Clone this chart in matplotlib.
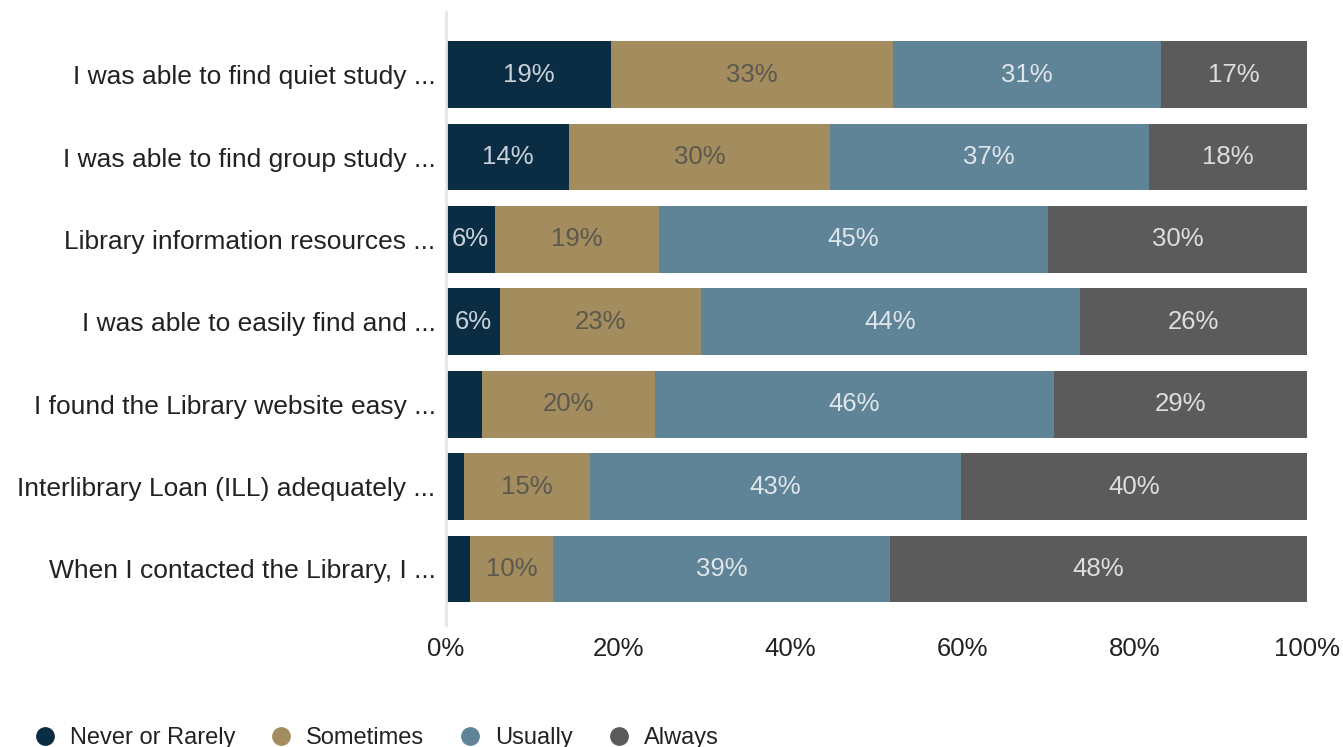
import matplotlib
matplotlib.use("Agg")
import matplotlib.pyplot as plt
import numpy as np
from matplotlib.lines import Line2D

plt.rcParams["font.family"] = ["Liberation Sans", "DejaVu Sans"]

QUESTIONS = [
    "I was able to find quiet study ...",
    "I was able to find group study ...",
    "Library information resources ...",
    "I was able to easily find and ...",
    "I found the Library website easy ...",
    "Interlibrary Loan (ILL) adequately ...",
    "When I contacted the Library, I ...",
]
NEVER     = [19.2, 14.3, 5.7, 6.3, 4.2, 2.1, 2.8]
SOMETIMES = [32.7, 30.3, 19.0, 23.3, 20.1, 14.6, 9.6]
USUALLY   = [31.1, 37.0, 45.2, 44.0, 46.3, 43.1, 39.2]
ALWAYS    = [17.0, 18.4, 30.1, 26.4, 29.4, 40.2, 48.4]

SERIES = ["Never or Rarely", "Sometimes", "Usually", "Always"]
COLORS = ["#0b2d44", "#a38d5f", "#5f8397", "#5b5b5b"]
TEXT_COLORS = ["#c9d2da", "#5c584c", "#dfe6ea", "#dedede"]
XTICKS = [0, 20, 40, 60, 80, 100]

fig = plt.figure(figsize=(13.43, 7.47), dpi=100)
ax = fig.add_axes([446 / 1343, 1 - 625 / 747, 861 / 1343, 613 / 747])

y = np.arange(len(QUESTIONS))
left = np.zeros(len(QUESTIONS))
for vals, color, tcol in zip([NEVER, SOMETIMES, USUALLY, ALWAYS], COLORS, TEXT_COLORS):
    vals = np.array(vals)
    ax.barh(y, vals, left=left, height=0.81, color=color, linewidth=0)
    for yi, l, v in zip(y, left, vals):
        if v >= 5:
            ax.text(l + v / 2, yi, f"{round(v)}%", ha="center", va="center",
                    fontsize=18.5, color=tcol)
    left += vals

ax.set_xlim(0, 100)
ax.set_ylim(6.68, -0.76)
ax.set_yticks(y)
ax.set_yticklabels(QUESTIONS, fontsize=19, color="#222222")
ax.set_xticks(XTICKS)
ax.set_xticklabels([f"{t}%" for t in XTICKS], fontsize=18.5, color="#222222")
ax.tick_params(axis="both", length=0)
ax.tick_params(axis="y", pad=7.5)
ax.tick_params(axis="x", pad=9)
for s in ["top", "right", "bottom"]:
    ax.spines[s].set_visible(False)
ax.spines["left"].set_color("#e6e6e6")
ax.spines["left"].set_linewidth(2)

handles = [Line2D([0], [0], marker="o", linestyle="none", markersize=12.5,
                  markerfacecolor=c, markeredgecolor=c) for c in COLORS]
fig.legend(handles, SERIES, loc="lower left", bbox_to_anchor=(0.009, -0.031),
           ncol=4, frameon=False, fontsize=17, handlelength=1.0,
           handletextpad=0.55, columnspacing=1.45, labelcolor="#222222")

fig.savefig("out.png", dpi=100, facecolor="white")
